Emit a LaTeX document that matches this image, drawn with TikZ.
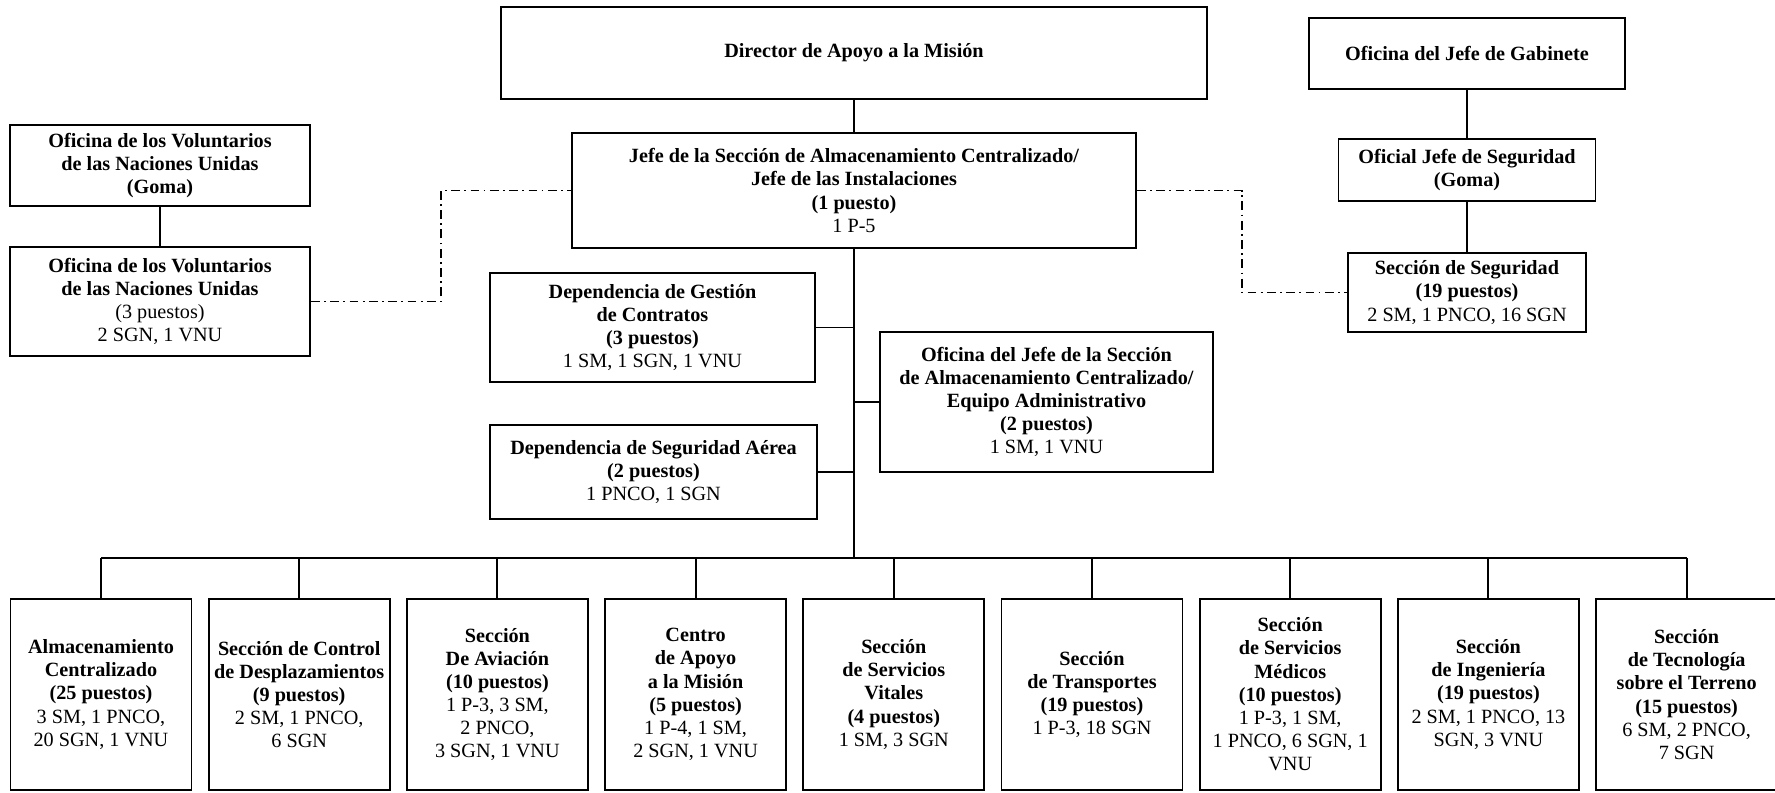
\documentclass[tikz,border=0pt]{standalone}
\usepackage{fontspec}
\setmainfont{Liberation Serif}
\usetikzlibrary{positioning}

\newcommand{\pst}[1]{{\mdseries #1}}

\tikzset{
    box/.style 2 args={draw, line width=1.1pt, align=center, inner sep=2pt,
        font=\fontsize{11.5}{13.2}\selectfont\bfseries,
        minimum width=#1*0.02cm, minimum height=#2*0.02cm},
    link/.style={line width=1.1pt},
    dotlink/.style={line width=1pt, dash pattern=on 5pt off 2.5pt on 1pt off 2.5pt}
}

\begin{document}
\begin{tikzpicture}[x=0.02cm, y=-0.02cm]
    \useasboundingbox (0,0) rectangle (1775,792);

    % Top of the chart
    \node[box={706}{92}] (dir) at (854,53) {Director de Apoyo a la Misión};
    \node[box={564}{115}] (jefe) at (854,190.5) {Jefe de la Sección de Almacenamiento Centralizado/\\Jefe de las Instalaciones\\(1 puesto)\\\pst{1 P-5}};

    % Volunteers (left)
    \node[box={300}{81}] (vnu1) at (160,165.5) {Oficina de los Voluntarios\\de las Naciones Unidas\\(Goma)};
    \node[box={300}{109}] (vnu2) at (160,301.5) {Oficina de los Voluntarios\\de las Naciones Unidas\\\pst{(3 puestos)}\\\pst{2 SGN, 1 VNU}};

    % Security (right)
    \node[box={316}{71}] (gab) at (1467,53.5) {Oficina del Jefe de Gabinete};
    \node[box={257}{62}] (ofseg) at (1467,170) {Oficial Jefe de Seguridad\\(Goma)};
    \node[box={238}{79}] (secseg) at (1467,292.5) {Sección de Seguridad\\(19 puestos)\\\pst{2 SM, 1 PNCO, 16 SGN}};

    % Units beside the trunk
    \node[box={325}{109}] (gest) at (652.5,327.5) {Dependencia de Gestión\\de Contratos\\(3 puestos)\\\pst{1 SM, 1 SGN, 1 VNU}};
    \node[box={327}{94}] (aer) at (653.5,472) {Dependencia de Seguridad Aérea\\(2 puestos)\\\pst{1 PNCO, 1 SGN}};
    \node[box={333}{140}] (ofadm) at (1046.5,402) {Oficina del Jefe de la Sección\\de Almacenamiento Centralizado/\\Equipo Administrativo\\(2 puestos)\\\pst{1 SM, 1 VNU}};

    % Sections (bottom row)
    \node[box={181}{191}] (s1) at (101,694.5) {Almacenamiento\\Centralizado\\(25 puestos)\\\pst{3 SM, 1 PNCO,}\\\pst{20 SGN, 1 VNU}};
    \node[box={181}{191}] (s2) at (299.2,694.5) {Sección de Control\\de Desplazamientos\\(9 puestos)\\\pst{2 SM, 1 PNCO,}\\\pst{6 SGN}};
    \node[box={181}{191}] (s3) at (497.4,694.5) {Sección\\De Aviación\\(10 puestos)\\\pst{1 P-3, 3 SM,}\\\pst{2 PNCO,}\\\pst{3 SGN, 1 VNU}};
    \node[box={181}{191}] (s4) at (695.6,694.5) {Centro\\de Apoyo\\a la Misión\\(5 puestos)\\\pst{1 P-4, 1 SM,}\\\pst{2 SGN, 1 VNU}};
    \node[box={181}{191}] (s5) at (893.8,694.5) {Sección\\de Servicios\\Vitales\\(4 puestos)\\\pst{1 SM, 3 SGN}};
    \node[box={181}{191}] (s6) at (1092,694.5) {Sección\\de Transportes\\(19 puestos)\\\pst{1 P-3, 18 SGN}};
    \node[box={181}{191}] (s7) at (1290.2,694.5) {Sección\\de Servicios\\Médicos\\(10 puestos)\\\pst{1 P-3, 1 SM,}\\\pst{1 PNCO, 6 SGN, 1}\\\pst{VNU}};
    \node[box={181}{191}] (s8) at (1488.4,694.5) {Sección\\de Ingeniería\\(19 puestos)\\\pst{2 SM, 1 PNCO, 13}\\\pst{SGN, 3 VNU}};
    \node[box={181}{191}] (s9) at (1686.6,694.5) {Sección\\de Tecnología\\sobre el Terreno\\(15 puestos)\\\pst{6 SM, 2 PNCO,}\\\pst{7 SGN}};

    % Helper points
    \coordinate (bus) at (854,558);
    \coordinate (lk) at (441,250);
    \coordinate (rk) at (1242,250);

    % Solid lines
    \draw[link] (dir.south) -- (jefe.north);
    \draw[link] (jefe.south) -- (bus);
    \draw[link] (gest.east) -- (gest.east -| bus);
    \draw[link] (aer.east) -- (aer.east -| bus);
    \draw[link] (ofadm.west) -- (ofadm.west -| bus);
    \draw[link] (vnu1.south) -- (vnu2.north);
    \draw[link] (gab.south) -- (ofseg.north);
    \draw[link] (ofseg.south) -- (secseg.north);
    \draw[link] (s1.north |- bus) -- (s9.north |- bus);
    \foreach \i in {1,...,9}
        \draw[link] (s\i.north) -- (s\i.north |- bus);

    % Dash-dot lines
    \draw[dotlink] (vnu2.east) -| (lk) |- (jefe.west);
    \draw[dotlink] (jefe.east) -| (rk) |- (secseg.west);
\end{tikzpicture}
\end{document}
